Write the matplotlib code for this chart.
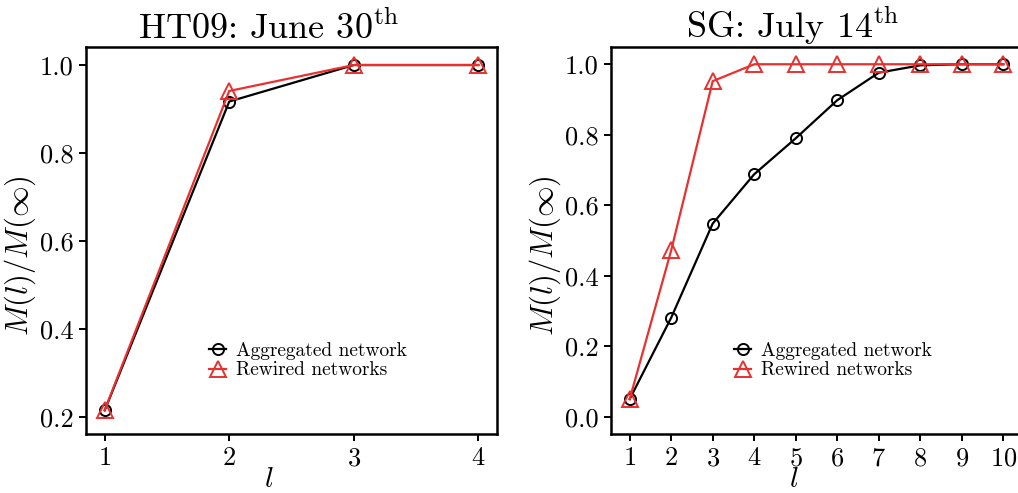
import numpy as np
import matplotlib
matplotlib.use("Agg")
import matplotlib.pyplot as plt

plt.rcParams['font.family'] = 'serif'
plt.rcParams['font.serif'] = ['cmr10']
plt.rcParams['mathtext.fontset'] = 'cm'
plt.rcParams['axes.formatter.use_mathtext'] = True

# HT09 panel
l_ht = [1, 2, 3, 4]
agg_ht = [0.215, 0.917, 1.0, 1.0]
rew_ht = [0.216, 0.941, 1.0, 1.0]

# SG panel
l_sg = [1, 2, 3, 4, 5, 6, 7, 8, 9, 10]
agg_sg = [0.05, 0.281, 0.548, 0.688, 0.790, 0.898, 0.976, 0.997, 1.0, 1.0]
rew_sg = [0.05, 0.472, 0.952, 1.0, 1.0, 1.0, 1.0, 1.0, 1.0, 1.0]

titles = [r'HT09: June 30$^{\mathrm{th}}$', r'SG: July 14$^{\mathrm{th}}$']
red = '#e8312f'

fig = plt.figure(figsize=(10.18, 4.93), dpi=100)
ax1 = fig.add_axes([0.0845, 0.1197, 0.4037, 0.785])
ax2 = fig.add_axes([0.6002, 0.1197, 0.4037, 0.785])

panels = [(ax1, l_ht, agg_ht, rew_ht, (0.1614, 1.041), np.arange(0.2, 1.01, 0.2)),
          (ax2, l_sg, agg_sg, rew_sg, (-0.049, 1.049), np.arange(0.0, 1.01, 0.2))]

for (ax, l, agg, rew, ylim, yt), title in zip(panels, titles):
    ax.plot(l, agg, color='black', lw=1.6, marker='o', ms=8, mfc='none',
            mec='black', mew=1.4, label='Aggregated network')
    ax.plot(l, rew, color=red, lw=1.6, marker='^', ms=11, mfc='none',
            mec=red, mew=1.4, label='Rewired networks')
    ax.set_xticks(l)
    ax.set_yticks(yt)
    ax.set_yticklabels(['%.1f' % v for v in yt])
    ax.set_ylim(*ylim)
    ax.set_xlim(l[0] - 0.05 * (l[-1] - l[0]), l[-1] + 0.05 * (l[-1] - l[0]))
    ax.set_xlabel(r'$l$', fontsize=21)
    ax.xaxis.set_label_coords(0.445, -0.084)
    ax.set_ylabel(r'$M(l)/M(\infty)$', fontsize=22)
    ax.yaxis.set_label_coords(-0.117, 0.46)
    ax.set_title(title, fontsize=26, pad=6, x=0.443)
    ax.tick_params(labelsize=19, direction='out', length=5, width=1.4, pad=4)
    for s in ax.spines.values():
        s.set_linewidth(1.8)
    ax.legend(loc='center left', bbox_to_anchor=(0.28, 0.19), frameon=False,
              fontsize=14, handlelength=0.9, handletextpad=0.5,
              labelspacing=0.1, borderaxespad=0)

fig.savefig('out.png', dpi=100)
